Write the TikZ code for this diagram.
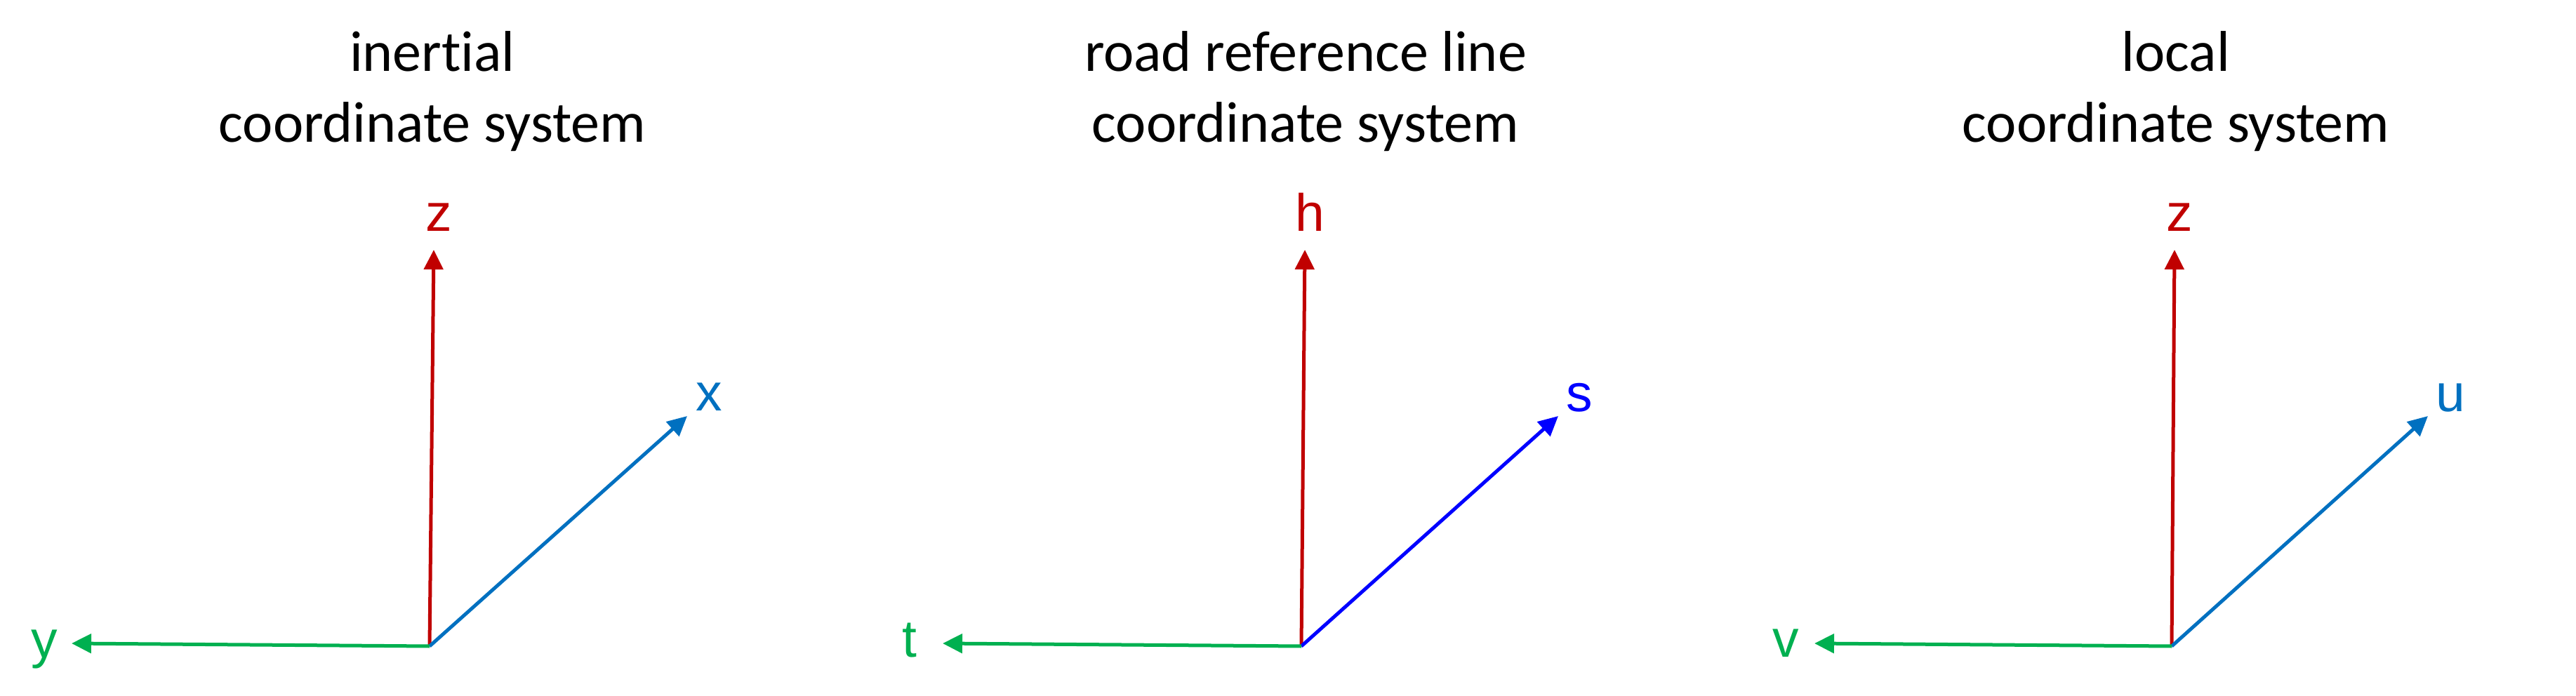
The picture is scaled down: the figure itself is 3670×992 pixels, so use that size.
\documentclass[tikz,border=0pt]{standalone}
\usepackage{fontspec}
\usepackage{tikz}
\usetikzlibrary{arrows.meta}
\setmainfont{Carlito}[Ligatures=NoCommon]
\newfontfamily\axisfont{Liberation Sans}
\definecolor{axred}{HTML}{C00000}
\definecolor{axblue}{HTML}{0070C0}
\definecolor{axpure}{HTML}{0000FF}
\definecolor{axgreen}{HTML}{00B050}

\begin{document}
\begin{tikzpicture}[
    x=1pt, y=-1pt,
    axis/.style={line width=5pt, -{Triangle[length=28pt, width=27pt]}},
    title/.style={anchor=base, inner sep=0pt, font=\fontsize{82}{100}\selectfont},
    axlabel/.style={anchor=base, inner sep=0pt, font=\fontsize{75}{90}\selectfont\axisfont},
]
    \useasboundingbox (0, 0) rectangle (3670, 992);

    % Inertial system
    \node[title] (t1a) at (616, 102) {inertial};
    \node[title] (t1b) at (616, 203) {coordinate system};
    \coordinate (o1) at (612, 921);
    \coordinate (z1) at (618, 356);
    \coordinate (x1) at (979, 593);
    \coordinate (y1) at (102, 917);
    \draw[axis, axred] (o1) -- (z1);
    \draw[axis, axblue] (o1) -- (x1);
    \draw[axis, axgreen] (o1) -- (y1);
    \node[axlabel, text=axred] (lz1) at (625, 330) {z};
    \node[axlabel, text=axblue] (lx1) at (1010, 585) {x};
    \node[axlabel, text=axgreen] (ly1) at (63, 937) {y};

    % Road reference line system
    \node[title] (t2a) at (1860, 102) {road reference line};
    \node[title] (t2b) at (1860, 203) {coordinate system};
    \coordinate (o2) at (1854, 921);
    \coordinate (h2) at (1859, 356);
    \coordinate (s2) at (2220, 593);
    \coordinate (t2) at (1343, 917);
    \draw[axis, axred] (o2) -- (h2);
    \draw[axis, axpure] (o2) -- (s2);
    \draw[axis, axgreen] (o2) -- (t2);
    \node[axlabel, text=axred] (lh2) at (1866, 330) {h};
    \node[axlabel, text=axpure] (ls2) at (2250, 586) {s};
    \node[axlabel, text=axgreen] (lt2) at (1296, 936) {t};

    % Local system
    \node[title] (t3a) at (3100, 102) {local};
    \node[title] (t3b) at (3100, 203) {coordinate system};
    \coordinate (o3) at (3094, 921);
    \coordinate (z3) at (3098, 356);
    \coordinate (u3) at (3459, 593);
    \coordinate (v3) at (2585, 917);
    \draw[axis, axred] (o3) -- (z3);
    \draw[axis, axblue] (o3) -- (u3);
    \draw[axis, axgreen] (o3) -- (v3);
    \node[axlabel, text=axred] (lz3) at (3105, 330) {z};
    \node[axlabel, text=axblue] (lu3) at (3491, 586) {u};
    \node[axlabel, text=axgreen] (lv3) at (2544, 936) {v};
\end{tikzpicture}
\end{document}
